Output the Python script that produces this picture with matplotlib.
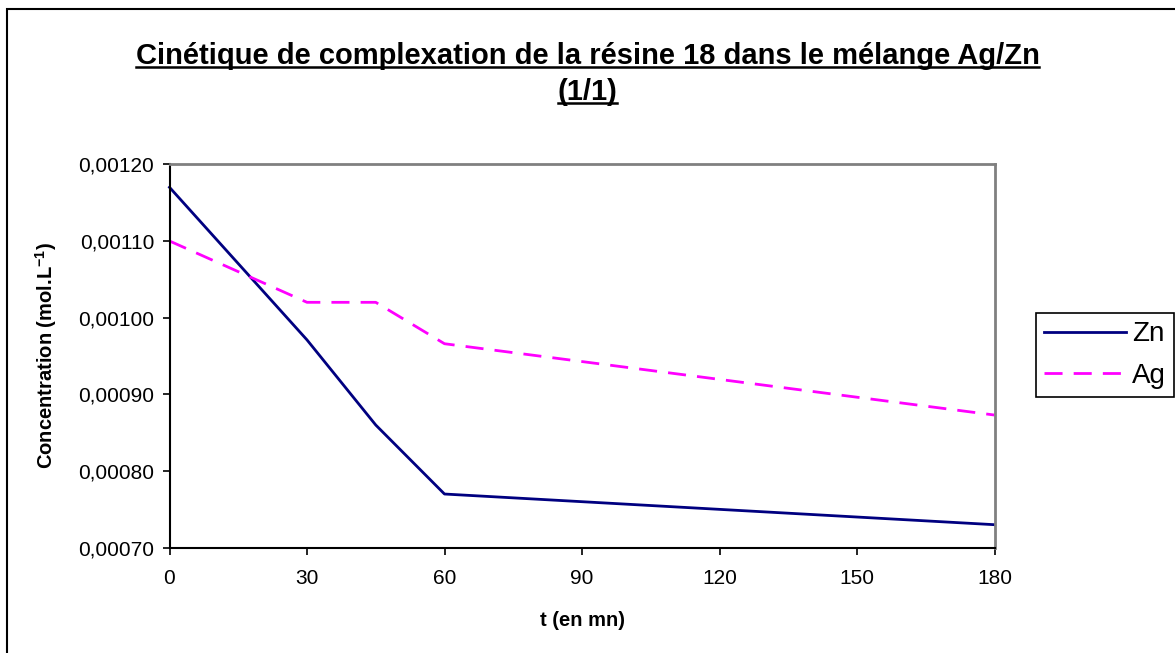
import numpy as np
import matplotlib.pyplot as plt
from matplotlib.patches import Rectangle
from matplotlib.lines import Line2D

plt.rcParams['font.family'] = ['Liberation Sans', 'DejaVu Sans']
plt.rcParams['mathtext.fontset'] = 'custom'
plt.rcParams['mathtext.rm'] = 'Liberation Sans'
plt.rcParams['mathtext.bf'] = 'Liberation Sans:bold'

# donnees
temps = np.array([0, 30, 45, 60, 180])
zn = np.array([0.00117, 0.000971, 0.00086, 0.00077, 0.00073])
ag = np.array([0.00110, 0.00102, 0.00102, 0.000966, 0.000873])
xticks = [0, 30, 60, 90, 120, 150, 180]
yticks = [0.0007, 0.0008, 0.0009, 0.0010, 0.0011, 0.0012]
ytick_labels = ['0,00070', '0,00080', '0,00090', '0,00100', '0,00110', '0,00120']
titre = ['Cinétique de complexation de la résine 18 dans le mélange Ag/Zn', '(1/1)']

W, H = 1175, 653
fig = plt.figure(figsize=(W / 100, H / 100), dpi=100)
ax = fig.add_axes([169.5 / W, 1 - 547.7 / H, (994.5 - 169.5) / W, (547.7 - 164.3) / H])

ax.plot(temps, zn, color='#000080', lw=2.0, label='Zn', clip_on=False)
ax.plot(temps, ag, color='#FF00FF', lw=2.0, dashes=(6.5, 4), label='Ag', clip_on=False)

ax.set_xlim(0, 180)
ax.set_ylim(0.0007, 0.0012)
ax.set_xticks(xticks)
ax.set_yticks(yticks)
ax.set_yticklabels(ytick_labels)
ax.tick_params(direction='out', length=5, width=1.2, labelsize=15, pad=6)
ax.tick_params(axis='x', pad=10)

for s in ['top', 'right']:
    ax.spines[s].set_color('#808080')
    ax.spines[s].set_linewidth(2)
for s in ['left', 'bottom']:
    ax.spines[s].set_color('black')
    ax.spines[s].set_linewidth(1.5)

ax.set_xlabel('t (en mn)', fontsize=14.5, fontweight='bold', labelpad=17)
ax.set_ylabel(r'Concentration (mol.L$^{\mathbf{-1}}$)', fontsize=14.5, fontweight='bold', labelpad=14)

leg = ax.legend(loc='upper left', bbox_to_anchor=(1036 / W, 1 - 313 / H),
                bbox_transform=fig.transFigure, fontsize=20, frameon=True,
                fancybox=False, edgecolor='black', framealpha=1,
                handlelength=2.95, handletextpad=0.2, borderpad=0.3,
                labelspacing=0.55, borderaxespad=0)
leg.get_frame().set_linewidth(1.2)

# titre souligne
textes = []
for ligne, yc in zip(titre, [56, 92]):
    t = fig.text(0.5, 1 - yc / H, ligne, ha='center', va='center',
                 fontsize=21, fontweight='bold')
    textes.append(t)

fig.canvas.draw()
r = fig.canvas.get_renderer()
for t in textes:
    bb = t.get_window_extent(r)
    yl = (bb.y0 + 3) / H
    fig.add_artist(Line2D([bb.x0 / W, bb.x1 / W], [yl, yl], color='black', lw=1.8,
                          transform=fig.transFigure))

# cadre du graphique
fig.add_artist(Rectangle((7 / W, -0.2), 1.5, 1.2 - 9 / H, fill=False, edgecolor='black',
                         lw=1.5, transform=fig.transFigure))

fig.savefig('out.png', dpi=100)
